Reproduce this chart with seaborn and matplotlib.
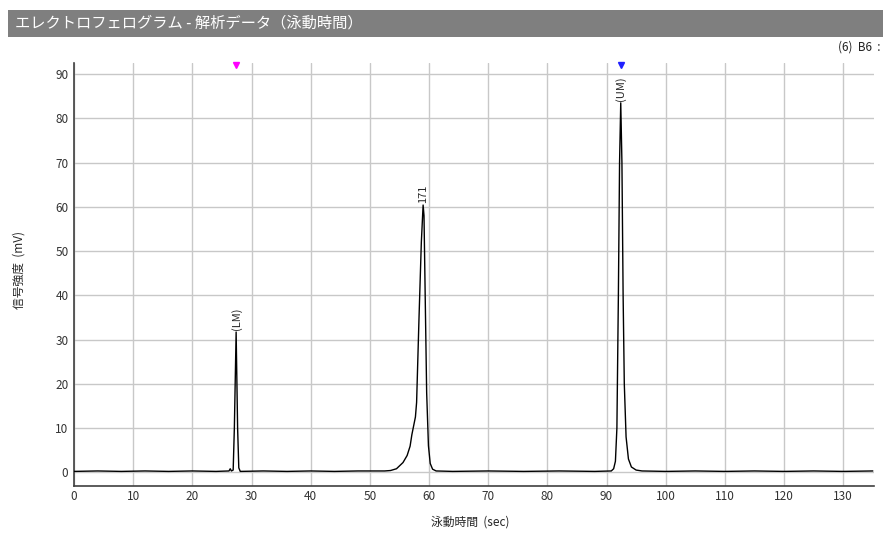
import matplotlib
matplotlib.use("Agg")
import matplotlib.pyplot as plt
import matplotlib.transforms as mtransforms
from matplotlib.patches import Rectangle
import seaborn as sns
import pandas as pd

# ---- data ----
time_sec = [0, 4, 8, 12, 16, 20, 24, 26.2, 26.4, 26.6, 26.9, 27.1, 27.4, 27.65, 27.85, 28.1,
            32, 36, 40, 44, 48, 51, 52.5, 53.5, 54.5, 55.6, 56.3, 56.8, 57.1, 57.4, 57.7, 57.9,
            58.3, 58.7, 59.0, 59.15, 59.35, 59.6, 59.9, 60.2, 60.6, 61.2, 64, 70, 76, 82, 88,
            90.8, 91.2, 91.5, 91.75, 92.0, 92.2, 92.4, 92.6, 92.8, 93.0, 93.3, 93.7, 94.2, 95,
            96, 100, 105, 110, 115, 120, 125, 130, 135]
signal_mv = [0.2, 0.3, 0.2, 0.3, 0.2, 0.3, 0.2, 0.3, 0.8, 0.3, 0.5, 10, 31.7, 10, 1.0, 0.2,
             0.3, 0.2, 0.3, 0.2, 0.3, 0.3, 0.3, 0.4, 0.8, 2.2, 3.8, 5.9, 8.5, 10.5, 12.5, 15.8,
             34.6, 52, 60.4, 58, 40, 18, 6, 2, 0.7, 0.3, 0.2, 0.3, 0.2, 0.3, 0.2,
             0.3, 0.8, 2.5, 10, 40, 70, 83.5, 70, 40, 20, 8, 3, 1.2, 0.5,
             0.3, 0.2, 0.3, 0.2, 0.3, 0.2, 0.3, 0.2, 0.3]

peak_labels = ["(LM)", "171", "(UM)"]
peak_times = [27.4, 59.0, 92.4]
peak_heights = [31.7, 60.4, 83.5]

marker_times = [27.4, 92.4]
marker_colors = ["#ff00ff", "#2020ff"]

x_ticks = list(range(0, 131, 10))
y_ticks = list(range(0, 91, 10))

title_text = "エレクトロフェログラム - 解析データ（泳動時間）"
sample_text = "(6)  B6  :"
x_label = "泳動時間  (sec)"
y_label = "信号強度  (mV)"

# ---- plotting ----
sns.set_style("white")
plt.rcParams["font.family"] = ["Noto Sans CJK JP", "DejaVu Sans"]

fig = plt.figure(figsize=(8.83, 5.34), dpi=100)
ax = fig.add_axes([74 / 883, 1 - 486 / 534, 800 / 883, (486 - 63) / 534])

df = pd.DataFrame({"t": time_sec, "s": signal_mv})
sns.lineplot(data=df, x="t", y="s", ax=ax, color="black", linewidth=1.0, zorder=3)

ax.set_xlim(0, 135.2)
ax.set_ylim(-3.1, 92.5)
ax.set_xticks(x_ticks)
ax.set_yticks(y_ticks)
ax.grid(True, color="#c8c8c8", linewidth=1.0)
ax.set_axisbelow(True)
for side in ["top", "right"]:
    ax.spines[side].set_visible(False)
for side in ["left", "bottom"]:
    ax.spines[side].set_color("#404040")
    ax.spines[side].set_linewidth(1.2)
ax.tick_params(axis="both", labelsize=8.5, colors="#333333", length=3, width=0.8, pad=1)
ax.tick_params(axis="x", pad=0)
ax.set_xlabel("")
ax.set_ylabel("")
fig.text(470 / 883, 1 - 522 / 534, x_label, fontsize=8.5, ha="center", va="center")
fig.text(19 / 883, 1 - 270 / 534, y_label, fontsize=8.5, ha="center", va="center",
         rotation=90)

for lab, t, h in zip(peak_labels, peak_times, peak_heights):
    ax.annotate(lab, xy=(t, h), xytext=(0, 1.5), textcoords="offset points",
                rotation=90, ha="center", va="bottom", fontsize=8)

trans = mtransforms.blended_transform_factory(ax.transData, ax.transAxes)
for t, c in zip(marker_times, marker_colors):
    ax.plot([t], [0.995], marker="v", color=c, markersize=4, transform=trans,
            clip_on=False, linestyle="none")

# title bar
fig.patches.append(Rectangle((8 / 883, 1 - 37 / 534), 1 - 8 / 883, 27 / 534,
                             transform=fig.transFigure, facecolor="#7f7f7f",
                             edgecolor="none", zorder=0))
fig.text(15 / 883, 1 - 23.5 / 534, title_text, color="white", fontsize=11,
         va="center", ha="left")
fig.text(880 / 883, 1 - 47 / 534, sample_text, color="#222222", fontsize=8.5,
         va="center", ha="right")

fig.savefig("out.png", dpi=100)
